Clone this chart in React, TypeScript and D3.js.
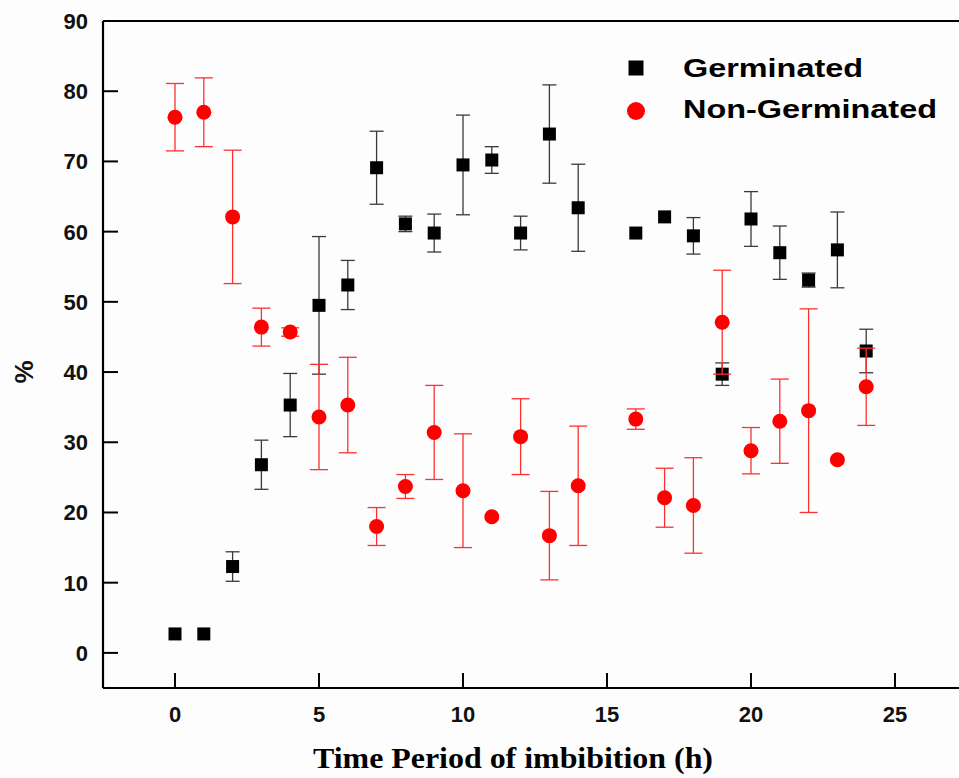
import React from "react";
import * as d3 from "d3";

const hours = [0, 1, 2, 3, 4, 5, 6, 7, 8, 9, 10, 11, 12, 13, 14, 16, 17, 18, 19, 20, 21, 22, 23, 24];
const germinated = [2.7, 2.7, 12.3, 26.8, 35.3, 49.5, 52.4, 69.1, 61.1, 59.8, 69.5, 70.2, 59.8, 73.9, 63.4, 59.8, 62.1, 59.4, 39.7, 61.8, 57.0, 53.1, 57.4, 43.0];
const germinatedErr = [0, 0, 2.1, 3.5, 4.5, 9.8, 3.5, 5.2, 1.1, 2.7, 7.1, 1.9, 2.4, 7.0, 6.2, 0, 0, 2.6, 1.6, 3.9, 3.8, 1.0, 5.4, 3.1];
const nonGerminated = [76.3, 77.0, 62.1, 46.4, 45.7, 33.6, 35.3, 18.0, 23.7, 31.4, 23.1, 19.4, 30.8, 16.7, 23.8, 33.3, 22.1, 21.0, 47.1, 28.8, 33.0, 34.5, 27.5, 37.9];
const nonGerminatedErr = [4.8, 4.9, 9.5, 2.7, 0.6, 7.5, 6.8, 2.7, 1.7, 6.7, 8.1, 0, 5.4, 6.3, 8.5, 1.45, 4.2, 6.8, 7.4, 3.3, 6.0, 14.5, 0, 5.5];
const xTicks = [0, 5, 10, 15, 20, 25];
const yTicks = [0, 10, 20, 30, 40, 50, 60, 70, 80, 90];
const seriesNames = ["Germinated", "Non-Germinated"];

const W = 959;
const H = 778;
const left = 103;
const top = 21;
const bottom = 688;

export default function App() {
  const x = d3.scaleLinear().domain([-2.5, 27.5]).range([left, left + 30 * 28.8]);
  const y = d3.scaleLinear().domain([-5, 90]).range([bottom, top]);
  const sansBold = "'Liberation Sans', Arial, sans-serif";

  const errBars = (vals: number[], errs: number[], color: string, cap: number, key: string) =>
    hours.map((h, i) => {
      if (!errs[i]) return null;
      const cx = x(h);
      const y1 = y(vals[i] + errs[i]);
      const y2 = y(vals[i] - errs[i]);
      return (
        <g key={key + i} stroke={color} strokeWidth={1.3}>
          <line x1={cx} x2={cx} y1={y1} y2={y2} />
          <line x1={cx - cap} x2={cx + cap} y1={y1} y2={y1} />
          <line x1={cx - cap} x2={cx + cap} y1={y2} y2={y2} />
        </g>
      );
    });

  const sq = 13;
  return (
    <svg width={W} height={H} style={{ position: "absolute", left: 0, top: 0, background: "#fdfdfd" }}>
      {/* axes box */}
      <line x1={left} x2={W + 10} y1={top} y2={top} stroke="#000" strokeWidth={2.2} />
      <line x1={left} x2={W + 10} y1={bottom} y2={bottom} stroke="#000" strokeWidth={2.2} />
      <line x1={left} x2={left} y1={top} y2={bottom} stroke="#000" strokeWidth={2.2} />
      {yTicks.map((t) => (
        <g key={"y" + t}>
          <line x1={left} x2={left + 15} y1={y(t)} y2={y(t)} stroke="#000" strokeWidth={2} />
          <text x={88} y={y(t) + 8} textAnchor="end" fontFamily={sansBold} fontWeight="bold" fontSize={22} fill="#111">
            {t}
          </text>
        </g>
      ))}
      {xTicks.map((t) => (
        <g key={"x" + t}>
          <line x1={x(t)} x2={x(t)} y1={bottom} y2={bottom - 15} stroke="#000" strokeWidth={2} />
          <text x={x(t)} y={722} textAnchor="middle" fontFamily={sansBold} fontWeight="bold" fontSize={22} fill="#111">
            {t}
          </text>
        </g>
      ))}
      <text
        transform={`translate(33,372) rotate(-90)`}
        textAnchor="middle"
        fontFamily={sansBold}
        fontWeight="bold"
        fontSize={26}
        fill="#111"
      >
        %
      </text>
      <text
        x={313}
        y={768}
        textLength={400}
        lengthAdjust="spacingAndGlyphs"
        fontFamily="'Liberation Serif', 'Times New Roman', serif"
        fontWeight="bold"
        fontSize={29}
        fill="#000"
      >
        Time Period of imbibition (h)
      </text>

      {/* Germinated */}
      {errBars(germinated, germinatedErr, "#3a3a3a", 7, "ge")}
      {hours.map((h, i) => (
        <rect key={"g" + i} x={x(h) - sq / 2} y={y(germinated[i]) - sq / 2} width={sq} height={sq} fill="#000" />
      ))}
      {/* Non-germinated */}
      {errBars(nonGerminated, nonGerminatedErr, "#ff3030", 9, "ne")}
      {hours.map((h, i) => (
        <circle key={"n" + i} cx={x(h)} cy={y(nonGerminated[i])} r={7.5} fill="#ff0000" />
      ))}

      {/* legend */}
      <rect x={636 - 7.5} y={68 - 7.5} width={15} height={15} fill="#000" />
      <circle cx={636} cy={111} r={9} fill="#ff0000" />
      <text x={683} y={77} textLength={180} lengthAdjust="spacingAndGlyphs" fontFamily={sansBold} fontWeight="bold" fontSize={25} fill="#000">
        {seriesNames[0]}
      </text>
      <text x={683} y={118} textLength={254} lengthAdjust="spacingAndGlyphs" fontFamily={sansBold} fontWeight="bold" fontSize={25} fill="#000">
        {seriesNames[1]}
      </text>
    </svg>
  );
}
